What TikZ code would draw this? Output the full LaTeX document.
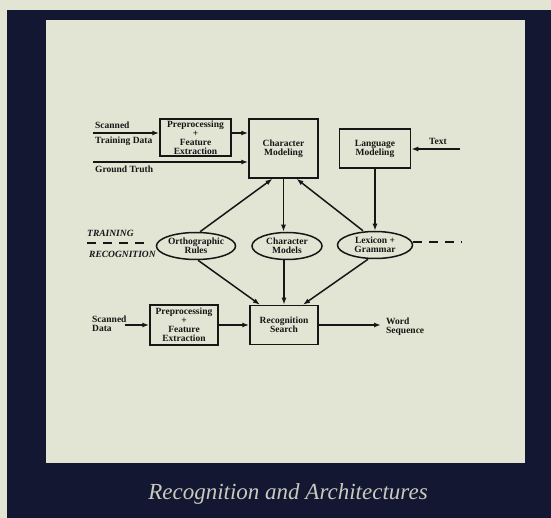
\documentclass[tikz,border=0pt]{standalone}
\usepackage{fontspec}
\setmainfont{Liberation Serif}
\usetikzlibrary{shapes.geometric,arrows.meta}
\definecolor{paper}{RGB}{226,229,212}
\definecolor{navy}{RGB}{20,23,50}
\definecolor{ink}{RGB}{22,22,22}
\definecolor{titlegray}{RGB}{200,202,190}
\begin{document}
\begin{tikzpicture}[x=1pt,y=-1pt,
  every node/.style={font=\bfseries\fontsize{9.5}{9}\selectfont, text=ink, align=center},
  box/.style={draw=ink, line width=1.5pt, rectangle, inner sep=0pt},
  oval/.style={draw=ink, line width=1.5pt, ellipse, inner sep=0pt, minimum width=75pt, minimum height=27pt},
  arr/.style={draw=ink, line width=1.5pt, -{Latex[length=7pt,width=5pt]}},
  divider/.style={draw=ink, line width=1.6pt, dash pattern=on 9pt off 7pt},
  lbl/.style={inner sep=0pt, align=left},
  phase/.style={inner sep=0pt, font=\bfseries\itshape\fontsize{9.5}{9.5}\selectfont}
]
\useasboundingbox (0,0) rectangle (551,518);
% cover: paper, navy frame, inner paper panel
\fill[paper] (0,0) rectangle (551,518);
\fill[navy] (7,10) rectangle (551,518);
\fill[paper] (46,20) rectangle (525,463);

% training row
\node[box, minimum width=71pt, minimum height=37pt] (pre1) at (195.5,137.5)
  {Preprocessing\\+\\Feature\\Extraction};
\node[box, minimum width=69pt, minimum height=59pt] (cm) at (283.5,148.5)
  {Character\\Modeling};
\node[box, minimum width=71pt, minimum height=39pt] (lm) at (375,148.5)
  {Language\\Modeling};

% knowledge sources
\node[oval] (ortho) at (196,246) {Orthographic\\Rules};
\node[oval, minimum width=70pt] (cmod) at (287,246) {Character\\Models};
\node[oval] (lex) at (375,245) {Lexicon +\\Grammar};

% recognition row
\node[box, minimum width=68pt, minimum height=40pt] (pre2) at (184,325)
  {Preprocessing\\+\\Feature\\Extraction};
\node[box, minimum width=68pt, minimum height=39pt] (rs) at (284,325)
  {Recognition\\Search};

% input / output labels
\node[lbl, anchor=west] (lscan) at (95,125) {Scanned};
\node[lbl, anchor=west] (ltrain) at (95,141) {Training Data};
\node[lbl, anchor=west] (lgt) at (95,169) {Ground Truth};
\node[lbl, anchor=west] (ltext) at (429,141) {Text};
\node[lbl, anchor=west] (lscan2) at (92,324) {Scanned\\Data};
\node[lbl, anchor=west] (lword) at (386,327) {Word\\Sequence};

% phase labels and dividers
\node[phase, anchor=west] (ltr) at (87,233) {TRAINING};
\node[phase, anchor=west] (lrec) at (89,254) {RECOGNITION};
\coordinate (dl1) at (87,243);
\coordinate (dl2) at (147,243);
\coordinate (dr1) at (413,242);
\coordinate (dr2) at (462,242);
\draw[divider] (dl1) -- (dl2);
\draw[divider] (dr1) -- (dr2);

% connectors, training
\coordinate (insc) at (93,133);
\coordinate (ingt) at (93,162);
\coordinate (intx) at (460,149);
\draw[arr] (insc) -- (insc -| pre1.west);
\draw[arr] (pre1.east |- insc) -- (insc -| cm.west);
\draw[arr] (ingt) -- (ingt -| cm.west);
\draw[arr] (intx) -- (intx -| lm.east);
\draw[arr] (lm.south) -- (lex.north);
\draw[arr] ([xshift=4pt]ortho.north) -- ([xshift=-11pt]cm.south);
\draw[arr] ([xshift=-12pt]lex.north) -- ([xshift=13pt]cm.south);
\draw[arr] (cm.south) -- (cm.south |- cmod.north);

% connectors, recognition
\coordinate (insc2) at (125,325);
\coordinate (outw) at (381,325);
\draw[arr] (insc2) -- (insc2 -| pre2.west);
\draw[arr] (pre2.east) -- (rs.west);
\draw[arr] (rs.east) -- (outw);
\draw[arr] ([xshift=2pt]ortho.south) -- ([xshift=-24pt]rs.north);
\draw[arr] (cmod.south -| rs.north) -- (rs.north);
\draw[arr] ([xshift=-7pt]lex.south) -- ([xshift=19pt]rs.north);

% caption
\node[font=\normalfont\itshape\fontsize{23}{23}\selectfont, text=titlegray, anchor=base] (title)
  at (288,499) {Recognition and Architectures};
\end{tikzpicture}
\end{document}
